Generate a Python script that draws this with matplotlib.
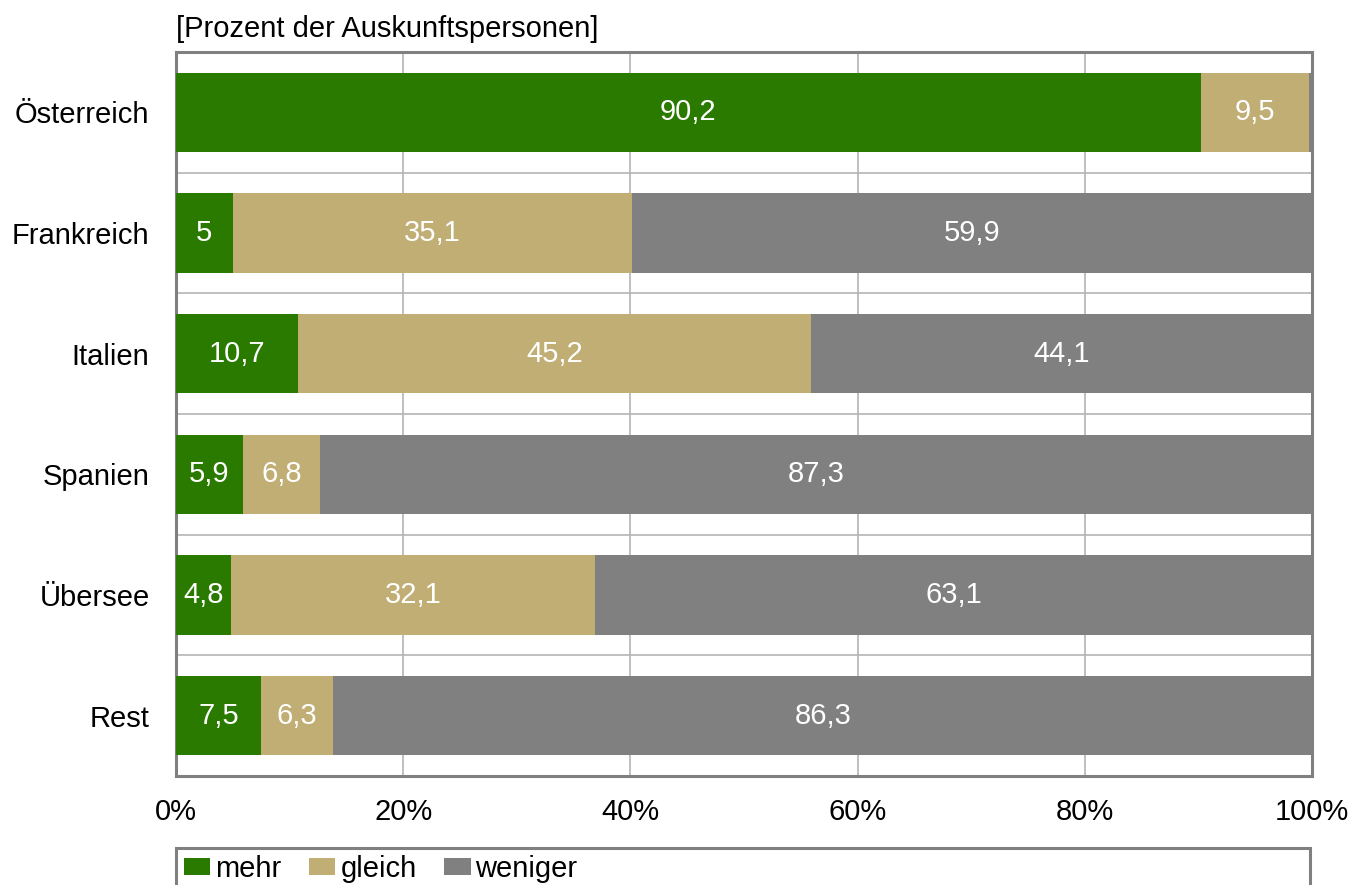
import numpy as np
import matplotlib.pyplot as plt
from matplotlib.patches import Rectangle
from matplotlib.ticker import FixedLocator, PercentFormatter

plt.rcParams['font.family'] = ['Liberation Sans', 'DejaVu Sans']

# DATA
countries = ['Österreich', 'Frankreich', 'Italien', 'Spanien', 'Übersee', 'Rest']
mehr    = [90.2, 5.0, 10.7, 5.9, 4.8, 7.5]
gleich  = [9.5, 35.1, 45.2, 6.8, 32.1, 6.3]
weniger = [0.3, 59.9, 44.1, 87.3, 63.1, 86.3]
series_names = ['mehr', 'gleich', 'weniger']
colors = ['#2a7a00', '#c0ae74', '#808080']

FS = 21

W, H = 1354, 885
fig = plt.figure(figsize=(W / 100, H / 100), dpi=100)
ax = fig.add_axes([176 / W, 1 - 776 / H, 1136 / W, 724 / H])

y = np.arange(len(countries))
left = np.zeros(len(countries))
for name, vals, col in zip(series_names, [mehr, gleich, weniger], colors):
    vals = np.array(vals)
    bars = ax.barh(y, vals, left=left, height=0.655, color=col, label=name, zorder=3)
    for b, v in zip(bars, vals):
        if v >= 1:
            txt = f'{v:g}'.replace('.', ',')
            ax.text(b.get_x() + b.get_width() / 2, b.get_y() + b.get_height() / 2, txt,
                    ha='center', va='center', color='white', fontsize=FS, zorder=4)
    left += vals

ax.set_xlim(0, 100)
ax.set_ylim(len(countries) - 0.5, -0.5)
ax.set_xticks(np.arange(0, 101, 20))
ax.xaxis.set_major_formatter(PercentFormatter(decimals=0))
ax.set_yticks(y)
ax.set_yticklabels(countries)
ax.yaxis.set_minor_locator(FixedLocator(np.arange(0.5, len(countries) - 0.5, 1)))
ax.tick_params(axis='both', which='both', length=0, labelsize=FS)
ax.tick_params(axis='x', pad=16)
ax.tick_params(axis='y', pad=19)
ax.grid(axis='x', which='major', color='#b4b4b4', linewidth=1.2, zorder=0)
ax.grid(axis='y', which='minor', color='#b4b4b4', linewidth=1.2, zorder=0)
ax.set_axisbelow(True)
for s in ax.spines.values():
    s.set_color('#808080')
    s.set_linewidth(2.2)

ax.text(0, 1.012, '[Prozent der Auskunftspersonen]', transform=ax.transAxes,
        ha='left', va='bottom', fontsize=FS)

# legend box, cut off at the bottom edge like the original
fig.patches.append(Rectangle((176 / W, -0.05), 1134 / W, 0.05 + (1 - 848 / H),
                             transform=fig.transFigure, fill=False,
                             edgecolor='#808080', linewidth=2.2))
leg = fig.legend(loc='upper left', bbox_to_anchor=(184 / W, 1 - 855 / H),
                 ncol=3, fontsize=FS, frameon=False, borderpad=0, borderaxespad=0,
                 handlelength=0.9, handleheight=0.55, handletextpad=0.17,
                 columnspacing=0.95)

fig.savefig('out.png', dpi=100)
